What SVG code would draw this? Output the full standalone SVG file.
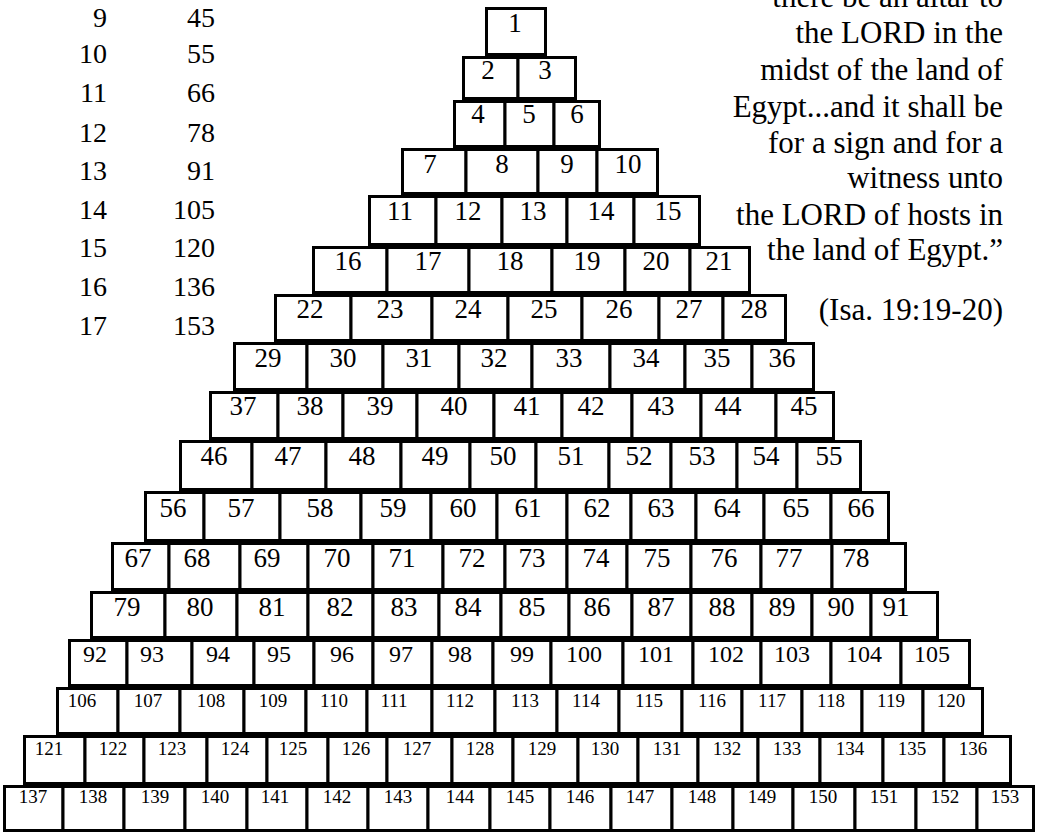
<svg xmlns="http://www.w3.org/2000/svg" width="1039" height="835" viewBox="0 0 1039 835">
<style>
.c rect{fill:#fff;stroke:#000;stroke-width:3}
.c text{font-family:"Liberation Serif","Times New Roman",serif;text-anchor:middle;fill:#000;font-size:27px}
.r14 text{font-size:24px}
.sm text{font-size:19px}
.t{font-family:"Liberation Serif","Times New Roman",serif;fill:#000}
.q{font-size:31px;text-anchor:end}
.l{font-size:28px;text-anchor:end}
</style>
<rect width="1039" height="835" fill="#fff"/>
<g id="table">
<text class="t l" x="107" y="27">9</text><text class="t l" x="215" y="27">45</text>
<text class="t l" x="107" y="63">10</text><text class="t l" x="215" y="63">55</text>
<text class="t l" x="107" y="102">11</text><text class="t l" x="215" y="102">66</text>
<text class="t l" x="107" y="142">12</text><text class="t l" x="215" y="142">78</text>
<text class="t l" x="107" y="180">13</text><text class="t l" x="215" y="180">91</text>
<text class="t l" x="107" y="219">14</text><text class="t l" x="215" y="219">105</text>
<text class="t l" x="107" y="257">15</text><text class="t l" x="215" y="257">120</text>
<text class="t l" x="107" y="296">16</text><text class="t l" x="215" y="296">136</text>
<text class="t l" x="107" y="335">17</text><text class="t l" x="215" y="335">153</text>
</g>
<g id="quote">
<text class="t q" x="1003" y="7">there be an altar to</text>
<text class="t q" x="1003" y="43">the LORD in the</text>
<text class="t q" x="1003" y="80">midst of the land of</text>
<text class="t q" x="1003" y="117">Egypt...and it shall be</text>
<text class="t q" x="1003" y="153">for a sign and for a</text>
<text class="t q" x="1003" y="188">witness unto</text>
<text class="t q" x="1003" y="225">the LORD of hosts in</text>
<text class="t q" x="1003" y="260">the land of Egypt.”</text>
<text class="t q" x="1003" y="320">(Isa. 19:19-20)</text>
</g>
<g class="c" id="pyramid">
<g id="row1">
<g id="n1"><rect x="486.5" y="8.5" width="59" height="46"/><text x="515" y="32">1</text></g>
</g>
<g id="row2">
<g id="n2"><rect x="463.5" y="57.5" width="54.5" height="41"/><text x="488" y="79">2</text></g>
<g id="n3"><rect x="518" y="57.5" width="57.5" height="41"/><text x="545" y="79">3</text></g>
</g>
<g id="row3">
<g id="n4"><rect x="454.5" y="101.5" width="50.5" height="45"/><text x="478" y="123">4</text></g>
<g id="n5"><rect x="505" y="101.5" width="49" height="45"/><text x="529" y="123">5</text></g>
<g id="n6"><rect x="554" y="101.5" width="45.5" height="45"/><text x="577" y="123">6</text></g>
</g>
<g id="row4">
<g id="n7"><rect x="402.5" y="149.5" width="63.5" height="44"/><text x="430" y="173">7</text></g>
<g id="n8"><rect x="466" y="149.5" width="72" height="44"/><text x="502" y="173">8</text></g>
<g id="n9"><rect x="538" y="149.5" width="59" height="44"/><text x="567" y="173">9</text></g>
<g id="n10"><rect x="597" y="149.5" width="60.5" height="44"/><text x="628" y="173">10</text></g>
</g>
<g id="row5">
<g id="n11"><rect x="369.5" y="196.5" width="66.5" height="48"/><text x="400" y="220">11</text></g>
<g id="n12"><rect x="436" y="196.5" width="66" height="48"/><text x="468" y="220">12</text></g>
<g id="n13"><rect x="502" y="196.5" width="65" height="48"/><text x="533" y="220">13</text></g>
<g id="n14"><rect x="567" y="196.5" width="67" height="48"/><text x="601" y="220">14</text></g>
<g id="n15"><rect x="634" y="196.5" width="65.5" height="48"/><text x="668" y="220">15</text></g>
</g>
<g id="row6">
<g id="n16"><rect x="313.5" y="247.5" width="73.5" height="45"/><text x="348" y="270">16</text></g>
<g id="n17"><rect x="387" y="247.5" width="82" height="45"/><text x="428" y="270">17</text></g>
<g id="n18"><rect x="469" y="247.5" width="83" height="45"/><text x="510" y="270">18</text></g>
<g id="n19"><rect x="552" y="247.5" width="73" height="45"/><text x="587" y="270">19</text></g>
<g id="n20"><rect x="625" y="247.5" width="65" height="45"/><text x="656" y="270">20</text></g>
<g id="n21"><rect x="690" y="247.5" width="59.5" height="45"/><text x="719" y="270">21</text></g>
</g>
<g id="row7">
<g id="n22"><rect x="275.5" y="295.5" width="75.5" height="45"/><text x="310" y="318">22</text></g>
<g id="n23"><rect x="351" y="295.5" width="81" height="45"/><text x="390" y="318">23</text></g>
<g id="n24"><rect x="432" y="295.5" width="76" height="45"/><text x="468" y="318">24</text></g>
<g id="n25"><rect x="508" y="295.5" width="74" height="45"/><text x="544" y="318">25</text></g>
<g id="n26"><rect x="582" y="295.5" width="77" height="45"/><text x="619" y="318">26</text></g>
<g id="n27"><rect x="659" y="295.5" width="64" height="45"/><text x="689" y="318">27</text></g>
<g id="n28"><rect x="723" y="295.5" width="62.5" height="45"/><text x="754" y="318">28</text></g>
</g>
<g id="row8">
<g id="n29"><rect x="234.5" y="343.5" width="72.5" height="46"/><text x="268" y="367">29</text></g>
<g id="n30"><rect x="307" y="343.5" width="76" height="46"/><text x="343" y="367">30</text></g>
<g id="n31"><rect x="383" y="343.5" width="76" height="46"/><text x="419" y="367">31</text></g>
<g id="n32"><rect x="459" y="343.5" width="73" height="46"/><text x="494" y="367">32</text></g>
<g id="n33"><rect x="532" y="343.5" width="78" height="46"/><text x="569" y="367">33</text></g>
<g id="n34"><rect x="610" y="343.5" width="75" height="46"/><text x="646" y="367">34</text></g>
<g id="n35"><rect x="685" y="343.5" width="67" height="46"/><text x="717" y="367">35</text></g>
<g id="n36"><rect x="752" y="343.5" width="61.5" height="46"/><text x="782" y="367">36</text></g>
</g>
<g id="row9">
<g id="n37"><rect x="210.5" y="392.5" width="67.5" height="46"/><text x="243" y="415">37</text></g>
<g id="n38"><rect x="278" y="392.5" width="65" height="46"/><text x="310" y="415">38</text></g>
<g id="n39"><rect x="343" y="392.5" width="74" height="46"/><text x="380" y="415">39</text></g>
<g id="n40"><rect x="417" y="392.5" width="77" height="46"/><text x="454" y="415">40</text></g>
<g id="n41"><rect x="494" y="392.5" width="68" height="46"/><text x="527" y="415">41</text></g>
<g id="n42"><rect x="562" y="392.5" width="70" height="46"/><text x="591" y="415">42</text></g>
<g id="n43"><rect x="632" y="392.5" width="69" height="46"/><text x="661" y="415">43</text></g>
<g id="n44"><rect x="701" y="392.5" width="75" height="46"/><text x="728" y="415">44</text></g>
<g id="n45"><rect x="776" y="392.5" width="57.5" height="46"/><text x="804" y="415">45</text></g>
</g>
<g id="row10">
<g id="n46"><rect x="180.5" y="441.5" width="71.5" height="48"/><text x="214" y="465">46</text></g>
<g id="n47"><rect x="252" y="441.5" width="74" height="48"/><text x="288" y="465">47</text></g>
<g id="n48"><rect x="326" y="441.5" width="75" height="48"/><text x="362" y="465">48</text></g>
<g id="n49"><rect x="401" y="441.5" width="69" height="48"/><text x="435" y="465">49</text></g>
<g id="n50"><rect x="470" y="441.5" width="66" height="48"/><text x="503" y="465">50</text></g>
<g id="n51"><rect x="536" y="441.5" width="73" height="48"/><text x="571" y="465">51</text></g>
<g id="n52"><rect x="609" y="441.5" width="62" height="48"/><text x="639" y="465">52</text></g>
<g id="n53"><rect x="671" y="441.5" width="66" height="48"/><text x="702" y="465">53</text></g>
<g id="n54"><rect x="737" y="441.5" width="60" height="48"/><text x="766" y="465">54</text></g>
<g id="n55"><rect x="797" y="441.5" width="63.5" height="48"/><text x="829" y="465">55</text></g>
</g>
<g id="row11">
<g id="n56"><rect x="145.5" y="492.5" width="58.5" height="48"/><text x="173" y="517">56</text></g>
<g id="n57"><rect x="204" y="492.5" width="76" height="48"/><text x="241" y="517">57</text></g>
<g id="n58"><rect x="280" y="492.5" width="81" height="48"/><text x="320" y="517">58</text></g>
<g id="n59"><rect x="361" y="492.5" width="70" height="48"/><text x="393" y="517">59</text></g>
<g id="n60"><rect x="431" y="492.5" width="66" height="48"/><text x="463" y="517">60</text></g>
<g id="n61"><rect x="497" y="492.5" width="70" height="48"/><text x="528" y="517">61</text></g>
<g id="n62"><rect x="567" y="492.5" width="64" height="48"/><text x="597" y="517">62</text></g>
<g id="n63"><rect x="631" y="492.5" width="65" height="48"/><text x="661" y="517">63</text></g>
<g id="n64"><rect x="696" y="492.5" width="68" height="48"/><text x="727" y="517">64</text></g>
<g id="n65"><rect x="764" y="492.5" width="67" height="48"/><text x="796" y="517">65</text></g>
<g id="n66"><rect x="831" y="492.5" width="57.5" height="48"/><text x="861" y="517">66</text></g>
</g>
<g id="row12">
<g id="n67"><rect x="112.5" y="543.5" width="56.5" height="46"/><text x="138" y="567">67</text></g>
<g id="n68"><rect x="169" y="543.5" width="71" height="46"/><text x="197" y="567">68</text></g>
<g id="n69"><rect x="240" y="543.5" width="68" height="46"/><text x="267" y="567">69</text></g>
<g id="n70"><rect x="308" y="543.5" width="65" height="46"/><text x="337" y="567">70</text></g>
<g id="n71"><rect x="373" y="543.5" width="70" height="46"/><text x="402" y="567">71</text></g>
<g id="n72"><rect x="443" y="543.5" width="62" height="46"/><text x="472" y="567">72</text></g>
<g id="n73"><rect x="505" y="543.5" width="62" height="46"/><text x="532" y="567">73</text></g>
<g id="n74"><rect x="567" y="543.5" width="60" height="46"/><text x="596" y="567">74</text></g>
<g id="n75"><rect x="627" y="543.5" width="64" height="46"/><text x="657" y="567">75</text></g>
<g id="n76"><rect x="691" y="543.5" width="70" height="46"/><text x="724" y="567">76</text></g>
<g id="n77"><rect x="761" y="543.5" width="71" height="46"/><text x="789" y="567">77</text></g>
<g id="n78"><rect x="832" y="543.5" width="73.5" height="46"/><text x="856" y="567">78</text></g>
</g>
<g id="row13">
<g id="n79"><rect x="91.5" y="592.5" width="73.5" height="45"/><text x="127" y="616">79</text></g>
<g id="n80"><rect x="165" y="592.5" width="72" height="45"/><text x="200" y="616">80</text></g>
<g id="n81"><rect x="237" y="592.5" width="71" height="45"/><text x="272" y="616">81</text></g>
<g id="n82"><rect x="308" y="592.5" width="65" height="45"/><text x="340" y="616">82</text></g>
<g id="n83"><rect x="373" y="592.5" width="66" height="45"/><text x="404" y="616">83</text></g>
<g id="n84"><rect x="439" y="592.5" width="62" height="45"/><text x="468" y="616">84</text></g>
<g id="n85"><rect x="501" y="592.5" width="68" height="45"/><text x="532" y="616">85</text></g>
<g id="n86"><rect x="569" y="592.5" width="63" height="45"/><text x="597" y="616">86</text></g>
<g id="n87"><rect x="632" y="592.5" width="59" height="45"/><text x="661" y="616">87</text></g>
<g id="n88"><rect x="691" y="592.5" width="61" height="45"/><text x="722" y="616">88</text></g>
<g id="n89"><rect x="752" y="592.5" width="60" height="45"/><text x="782" y="616">89</text></g>
<g id="n90"><rect x="812" y="592.5" width="59" height="45"/><text x="841" y="616">90</text></g>
<g id="n91"><rect x="871" y="592.5" width="66.5" height="45"/><text x="896" y="616">91</text></g>
</g>
<g id="row14" class="r14">
<g id="n92"><rect x="69.5" y="640.5" width="57.5" height="45"/><text x="95" y="662">92</text></g>
<g id="n93"><rect x="127" y="640.5" width="65" height="45"/><text x="152" y="662">93</text></g>
<g id="n94"><rect x="192" y="640.5" width="62" height="45"/><text x="218" y="662">94</text></g>
<g id="n95"><rect x="254" y="640.5" width="60" height="45"/><text x="279" y="662">95</text></g>
<g id="n96"><rect x="314" y="640.5" width="59" height="45"/><text x="342" y="662">96</text></g>
<g id="n97"><rect x="373" y="640.5" width="59" height="45"/><text x="401" y="662">97</text></g>
<g id="n98"><rect x="432" y="640.5" width="61" height="45"/><text x="460" y="662">98</text></g>
<g id="n99"><rect x="493" y="640.5" width="58" height="45"/><text x="522" y="662">99</text></g>
<g id="n100"><rect x="551" y="640.5" width="72" height="45"/><text x="584" y="662">100</text></g>
<g id="n101"><rect x="623" y="640.5" width="70" height="45"/><text x="656" y="662">101</text></g>
<g id="n102"><rect x="693" y="640.5" width="68" height="45"/><text x="726" y="662">102</text></g>
<g id="n103"><rect x="761" y="640.5" width="70" height="45"/><text x="792" y="662">103</text></g>
<g id="n104"><rect x="831" y="640.5" width="70" height="45"/><text x="864" y="662">104</text></g>
<g id="n105"><rect x="901" y="640.5" width="68.5" height="45"/><text x="932" y="662">105</text></g>
</g>
<g id="row15" class="sm">
<g id="n106"><rect x="57.5" y="688.5" width="60.5" height="45"/><text x="82" y="707">106</text></g>
<g id="n107"><rect x="118" y="688.5" width="62" height="45"/><text x="148" y="707">107</text></g>
<g id="n108"><rect x="180" y="688.5" width="64" height="45"/><text x="211" y="707">108</text></g>
<g id="n109"><rect x="244" y="688.5" width="62" height="45"/><text x="273" y="707">109</text></g>
<g id="n110"><rect x="306" y="688.5" width="61" height="45"/><text x="334" y="707">110</text></g>
<g id="n111"><rect x="367" y="688.5" width="65" height="45"/><text x="394" y="707">111</text></g>
<g id="n112"><rect x="432" y="688.5" width="63" height="45"/><text x="460" y="707">112</text></g>
<g id="n113"><rect x="495" y="688.5" width="62" height="45"/><text x="525" y="707">113</text></g>
<g id="n114"><rect x="557" y="688.5" width="62" height="45"/><text x="586" y="707">114</text></g>
<g id="n115"><rect x="619" y="688.5" width="63" height="45"/><text x="649" y="707">115</text></g>
<g id="n116"><rect x="682" y="688.5" width="60" height="45"/><text x="712" y="707">116</text></g>
<g id="n117"><rect x="742" y="688.5" width="60" height="45"/><text x="772" y="707">117</text></g>
<g id="n118"><rect x="802" y="688.5" width="60" height="45"/><text x="831" y="707">118</text></g>
<g id="n119"><rect x="862" y="688.5" width="61" height="45"/><text x="891" y="707">119</text></g>
<g id="n120"><rect x="923" y="688.5" width="59.5" height="45"/><text x="951" y="707">120</text></g>
</g>
<g id="row16" class="sm">
<g id="n121"><rect x="24.5" y="736.5" width="60.5" height="47"/><text x="49" y="755">121</text></g>
<g id="n122"><rect x="85" y="736.5" width="59" height="47"/><text x="113" y="755">122</text></g>
<g id="n123"><rect x="144" y="736.5" width="63" height="47"/><text x="172" y="755">123</text></g>
<g id="n124"><rect x="207" y="736.5" width="60" height="47"/><text x="235" y="755">124</text></g>
<g id="n125"><rect x="267" y="736.5" width="61" height="47"/><text x="293" y="755">125</text></g>
<g id="n126"><rect x="328" y="736.5" width="59" height="47"/><text x="356" y="755">126</text></g>
<g id="n127"><rect x="387" y="736.5" width="65" height="47"/><text x="417" y="755">127</text></g>
<g id="n128"><rect x="452" y="736.5" width="61" height="47"/><text x="480" y="755">128</text></g>
<g id="n129"><rect x="513" y="736.5" width="65" height="47"/><text x="542" y="755">129</text></g>
<g id="n130"><rect x="578" y="736.5" width="60" height="47"/><text x="605" y="755">130</text></g>
<g id="n131"><rect x="638" y="736.5" width="60" height="47"/><text x="667" y="755">131</text></g>
<g id="n132"><rect x="698" y="736.5" width="60" height="47"/><text x="727" y="755">132</text></g>
<g id="n133"><rect x="758" y="736.5" width="62" height="47"/><text x="787" y="755">133</text></g>
<g id="n134"><rect x="820" y="736.5" width="63" height="47"/><text x="850" y="755">134</text></g>
<g id="n135"><rect x="883" y="736.5" width="61" height="47"/><text x="912" y="755">135</text></g>
<g id="n136"><rect x="944" y="736.5" width="66.5" height="47"/><text x="973" y="755">136</text></g>
</g>
<g id="row17" class="sm">
<g id="n137"><rect x="4.5" y="786.5" width="58.5" height="44"/><text x="33" y="803">137</text></g>
<g id="n138"><rect x="63" y="786.5" width="61" height="44"/><text x="93" y="803">138</text></g>
<g id="n139"><rect x="124" y="786.5" width="61" height="44"/><text x="155" y="803">139</text></g>
<g id="n140"><rect x="185" y="786.5" width="62" height="44"/><text x="215" y="803">140</text></g>
<g id="n141"><rect x="247" y="786.5" width="60" height="44"/><text x="275" y="803">141</text></g>
<g id="n142"><rect x="307" y="786.5" width="61" height="44"/><text x="337" y="803">142</text></g>
<g id="n143"><rect x="368" y="786.5" width="60" height="44"/><text x="398" y="803">143</text></g>
<g id="n144"><rect x="428" y="786.5" width="62" height="44"/><text x="460" y="803">144</text></g>
<g id="n145"><rect x="490" y="786.5" width="60" height="44"/><text x="520" y="803">145</text></g>
<g id="n146"><rect x="550" y="786.5" width="61" height="44"/><text x="580" y="803">146</text></g>
<g id="n147"><rect x="611" y="786.5" width="61" height="44"/><text x="640" y="803">147</text></g>
<g id="n148"><rect x="672" y="786.5" width="61" height="44"/><text x="702" y="803">148</text></g>
<g id="n149"><rect x="733" y="786.5" width="60" height="44"/><text x="762" y="803">149</text></g>
<g id="n150"><rect x="793" y="786.5" width="62" height="44"/><text x="823" y="803">150</text></g>
<g id="n151"><rect x="855" y="786.5" width="61" height="44"/><text x="884" y="803">151</text></g>
<g id="n152"><rect x="916" y="786.5" width="61" height="44"/><text x="945" y="803">152</text></g>
<g id="n153"><rect x="977" y="786.5" width="56.5" height="44"/><text x="1005" y="803">153</text></g>
</g>
</g>
</svg>
